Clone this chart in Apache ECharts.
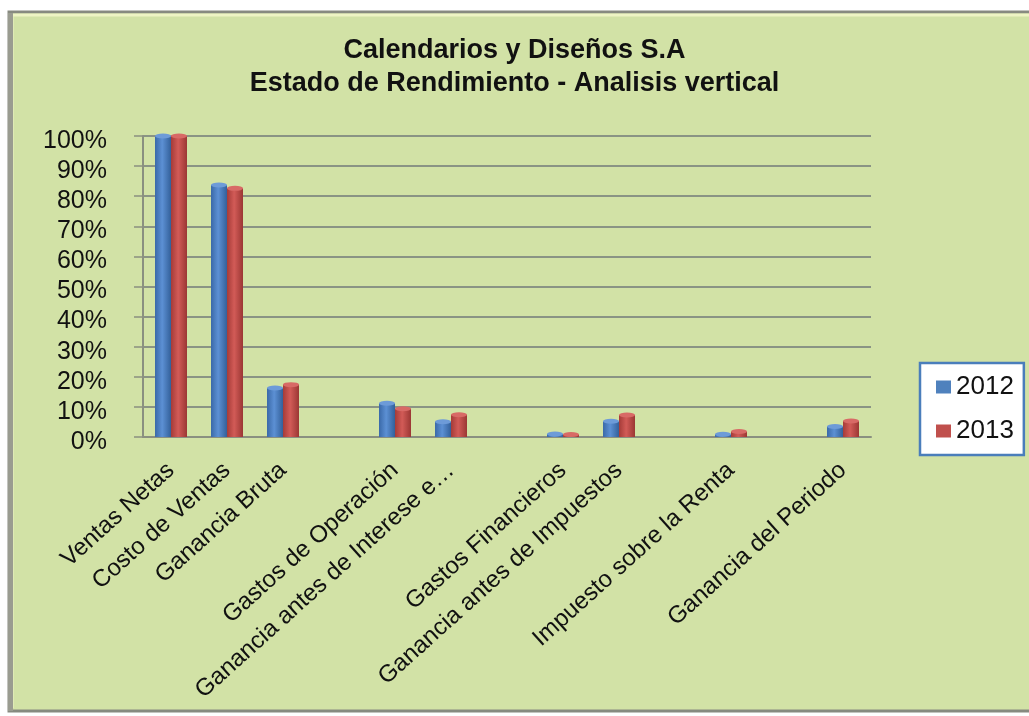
<!DOCTYPE html>
<html>
<head>
<meta charset="utf-8">
<script src="https://cdn.jsdelivr.net/npm/echarts@6/dist/echarts.min.js"></script>
<style>
html,body{margin:0;padding:0;background:#ffffff;}
#chart{width:1029px;height:716px;}
</style>
</head>
<body>
<div id="chart"></div>
<script>
// ---- data ----
var titleLines = ['Calendarios y Diseños S.A', 'Estado de Rendimiento - Analisis vertical'];
var categories = ['Ventas Netas', 'Costo de Ventas', 'Ganancia Bruta', ' ', 'Gastos de Operación',
  'Ganancia antes de Interese e…', '  ', 'Gastos Financieros', 'Ganancia antes de Impuestos', '   ',
  'Impuesto sobre la Renta', '    ', 'Ganancia del Periodo'];
var seriesNames = ['2012', '2013'];
var values2012 = [100, 83.7, 16.3, null, 11.2, 5.1, null, 1.0, 5.2, null, 0.9, null, 3.5];
var values2013 = [100, 82.6, 17.4, null, 9.4, 7.4, null, 0.8, 7.3, null, 1.8, null, 5.3];
var yTicks = [0, 100, 10]; // min, max, interval

var FONT = 'Liberation Sans';
function grad(c1, c2, c3) {
  return new echarts.graphic.LinearGradient(0, 0, 1, 0, [
    {offset: 0, color: c1}, {offset: 0.45, color: c2}, {offset: 1, color: c3}
  ]);
}
var blueFill = grad('#3a69a8', '#5c90d4', '#33609a');
var redFill = grad('#a53b38', '#d25b57', '#9b3734');

var chart = echarts.init(document.getElementById('chart'), null, {renderer: 'canvas'});
chart.setOption({
  backgroundColor: '#ffffff',
  animation: false,
  graphic: [
    {type: 'rect', z: -10, shape: {x: 9, y: 12, width: 1030, height: 699},
      style: {fill: '#d2e2a6', stroke: '#878a80', lineWidth: 3}},
    {type: 'polyline', z: -9, shape: {points: [[12, 708], [12, 15], [1029, 15]]},
      style: {stroke: '#eef4c4', lineWidth: 3, fill: null}},
    {type: 'rect', z: -9, shape: {x: 8, y: 13, width: 5, height: 698},
      style: {fill: '#9a9c90'}}
  ],
  title: {
    text: titleLines.join('\n'),
    left: 'center',
    top: 29,
    textStyle: {fontFamily: FONT, fontSize: 27, fontWeight: 'bold', color: '#111', lineHeight: 33}
  },
  legend: {
    data: [
      {name: seriesNames[0], itemStyle: {color: '#4f81bd'}},
      {name: seriesNames[1], itemStyle: {color: '#c0504d'}}
    ],
    orient: 'vertical',
    left: 920,
    top: 363,
    backgroundColor: '#ffffff',
    borderColor: '#4a7ebb',
    borderWidth: 2.5,
    borderRadius: 0,
    padding: [10, 10, 10, 16],
    itemGap: 16,
    itemWidth: 15,
    itemHeight: 13,
    icon: 'rect',
    textStyle: {fontFamily: FONT, fontSize: 26, color: '#111', lineHeight: 28}
  },
  grid: {left: 143, right: 158, top: 136, bottom: 279, containLabel: false},
  xAxis: {
    type: 'category',
    data: categories,
    axisLine: {show: true, lineStyle: {color: '#8a9080', width: 2}},
    axisTick: {show: false},
    axisLabel: {interval: 0, rotate: 42, margin: 30, fontFamily: FONT, fontSize: 24, color: '#111'}
  },
  yAxis: {
    type: 'value',
    min: yTicks[0], max: yTicks[1], interval: yTicks[2],
    axisLine: {show: true, lineStyle: {color: '#8a9080', width: 2}},
    axisTick: {show: true, inside: false, length: 9, lineStyle: {color: '#8a9080', width: 1.5}},
    axisLabel: {margin: 36, formatter: '{value}%', fontFamily: FONT, fontSize: 25, color: '#111',
      verticalAlign: 'top', lineHeight: 10},
    splitLine: {show: true, lineStyle: {color: '#8a9484', width: 2}}
  },
  series: [
    {name: seriesNames[0], type: 'bar', data: values2012, barWidth: 16, barGap: '0%',
      itemStyle: {color: blueFill}, z: 2},
    {name: seriesNames[1], type: 'bar', data: values2013, barWidth: 16, barGap: '0%',
      itemStyle: {color: redFill}, z: 2},
    {name: seriesNames[0] + ' top', type: 'pictorialBar', data: values2012, symbol: 'circle',
      symbolSize: [16, 5], symbolPosition: 'end', symbolOffset: ['-50%', '-50%'],
      itemStyle: {color: '#6d9bd8'}, z: 3, silent: true},
    {name: seriesNames[1] + ' top', type: 'pictorialBar', data: values2013, symbol: 'circle',
      symbolSize: [16, 5], symbolPosition: 'end', symbolOffset: ['50%', '-50%'],
      itemStyle: {color: '#d86a66'}, z: 3, silent: true}
  ]
});
</script>
</body>
</html>
